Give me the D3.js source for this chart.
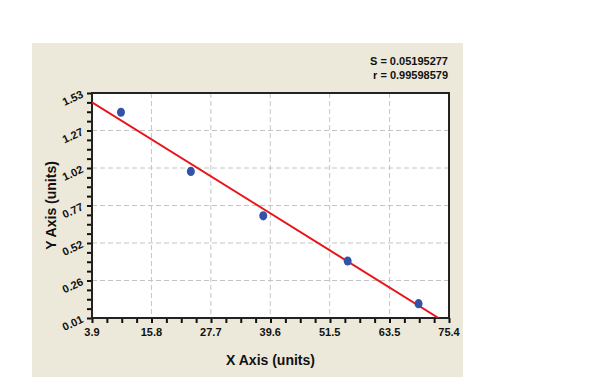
<!DOCTYPE html>
<html>
<head>
<meta charset="utf-8">
<script src="https://cdn.jsdelivr.net/npm/d3@7"></script>
<style>
	body { margin: 0; background: #fff; }
	text { font-family: 'Liberation Sans', Arial, sans-serif; font-weight: bold; fill: #111; }
</style>
</head>
<body>
<svg id="chart" width="600" height="381"></svg>
<script>
// values
const pointX = [9.7, 23.7, 38.2, 55.1, 69.3];
const pointY = [1.40, 1.00, 0.70, 0.395, 0.107];
const fitX = [3.9, 73.3];
const fitY = [1.467, 0.01];
const xTicks = [3.9, 15.8, 27.7, 39.6, 51.5, 63.5, 75.4];
const yTicks = [0.01, 0.2633, 0.5167, 0.77, 1.0233, 1.2767, 1.53];
const yTickLabels = ['0.01', '0.26', '0.52', '0.77', '1.02', '1.27', '1.53'];
const stats = ['S = 0.05195277', 'r = 0.99598579'];

const W = 600;
const H = 381;
const panel = { x: 32, y: 43, w: 431, h: 334 };
const plot = { left: 92, top: 93, right: 449, bottom: 318 };

const $svg = d3.select('#chart');

const x = d3.scaleLinear().domain([3.9, 75.4]).range([plot.left, plot.right]);
const y = d3.scaleLinear().domain([0.01, 1.53]).range([plot.bottom, plot.top]);

$svg.append('rect')
	.attr('x', panel.x).attr('y', panel.y)
	.attr('width', panel.w).attr('height', panel.h)
	.attr('fill', '#ece9da');

$svg.append('rect')
	.attr('x', plot.left).attr('y', plot.top)
	.attr('width', plot.right - plot.left).attr('height', plot.bottom - plot.top)
	.attr('fill', '#fff');

// dashed grid
const $grid = $svg.append('g').attr('stroke', '#c4c4c4').attr('stroke-dasharray', '5,3');
$grid.selectAll('.gx')
	.data(xTicks.slice(1, -1))
	.enter().append('line')
	.attr('x1', d => x(d)).attr('x2', d => x(d))
	.attr('y1', plot.top).attr('y2', plot.bottom);
$grid.selectAll('.gy')
	.data(yTicks.slice(1, -1))
	.enter().append('line')
	.attr('y1', d => y(d)).attr('y2', d => y(d))
	.attr('x1', plot.left).attr('x2', plot.right);

// minor ticks, 4 per interval
const xMinor = d3.range(0, 25).map(i => 3.9 + i * (75.4 - 3.9) / 24);
const yMinor = d3.range(0, 25).map(i => 0.01 + i * (1.53 - 0.01) / 24);

const xAxis = d3.axisBottom(x).tickValues(xMinor).tickSize(5).tickFormat('');
const yAxis = d3.axisLeft(y).tickValues(yMinor).tickSize(5).tickFormat('');

$svg.append('g')
	.attr('transform', `translate(0,${plot.bottom})`)
	.call(xAxis)
	.call(g => g.selectAll('line').attr('stroke', '#111').attr('stroke-width', 2))
	.call(g => g.select('.domain').remove());

$svg.append('g')
	.attr('transform', `translate(${plot.left},0)`)
	.call(yAxis)
	.call(g => g.selectAll('line').attr('stroke', '#111').attr('stroke-width', 2))
	.call(g => g.select('.domain').remove());

// frame
$svg.append('rect')
	.attr('x', plot.left).attr('y', plot.top)
	.attr('width', plot.right - plot.left).attr('height', plot.bottom - plot.top)
	.attr('fill', 'none').attr('stroke', '#222').attr('stroke-width', 2);

// tick labels
$svg.append('g').selectAll('text')
	.data(xTicks)
	.enter().append('text')
	.attr('x', d => x(d)).attr('y', plot.bottom + 18)
	.attr('text-anchor', 'middle')
	.attr('font-size', 11)
	.text(d => d.toFixed(1));

$svg.append('g').selectAll('text')
	.data(yTicks)
	.enter().append('text')
	.attr('transform', d => `translate(${plot.left - 8},${y(d) + 4}) rotate(-25)`)
	.attr('text-anchor', 'end')
	.attr('font-size', 11)
	.text((d, i) => yTickLabels[i]);

// fit line
$svg.append('defs').append('clipPath').attr('id', 'clip')
	.append('rect')
	.attr('x', plot.left).attr('y', plot.top)
	.attr('width', plot.right - plot.left).attr('height', plot.bottom - plot.top);

$svg.append('path')
	.datum(d3.zip(fitX, fitY))
	.attr('clip-path', 'url(#clip)')
	.attr('d', d3.line().x(d => x(d[0])).y(d => y(d[1])))
	.attr('fill', 'none')
	.attr('stroke', '#e8161b')
	.attr('stroke-width', 2);

// points
$svg.append('g').selectAll('ellipse')
	.data(d3.zip(pointX, pointY))
	.enter().append('ellipse')
	.attr('cx', d => x(d[0])).attr('cy', d => y(d[1]))
	.attr('rx', 4).attr('ry', 4.6)
	.attr('fill', '#3352a8');

// titles
$svg.append('text')
	.attr('x', (plot.left + plot.right) / 2).attr('y', 365)
	.attr('text-anchor', 'middle')
	.attr('font-size', 14)
	.text('X Axis (units)');

$svg.append('text')
	.attr('transform', `translate(56,${(plot.top + plot.bottom) / 2}) rotate(-90)`)
	.attr('text-anchor', 'middle')
	.attr('font-size', 14)
	.text('Y Axis (units)');

$svg.append('g').selectAll('text')
	.data(stats)
	.enter().append('text')
	.attr('x', 448).attr('y', (d, i) => 65 + i * 13.5)
	.attr('text-anchor', 'end')
	.attr('font-size', 11)
	.text(d => d);
</script>
</body>
</html>
